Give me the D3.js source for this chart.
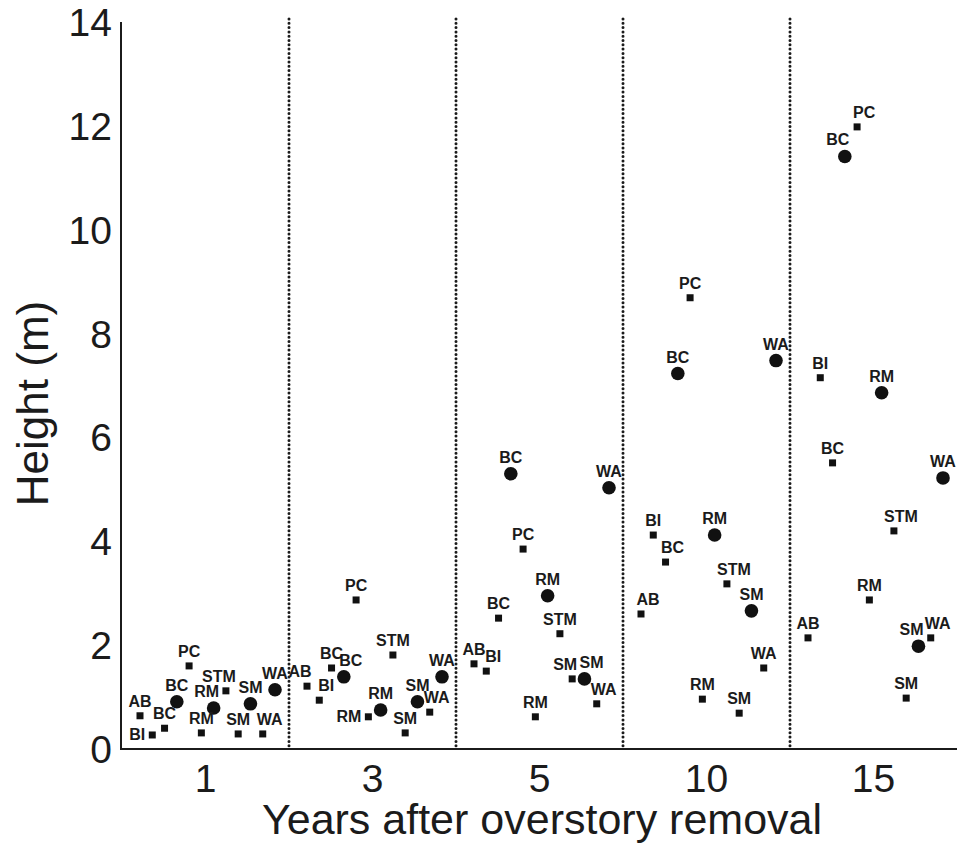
<!DOCTYPE html>
<html>
<head>
<meta charset="utf-8">
<script src="https://cdn.jsdelivr.net/npm/d3@7"></script>
<style>
  body { margin: 0; background: #fff; }
  svg { display: block; font-family: 'Liberation Sans', Arial, Helvetica, sans-serif; }
  .tick-label { font-size: 39px; fill: #1b1b1b; }
  .axis-title { font-size: 43px; fill: #1b1b1b; }
  .y-title { font-size: 44px; }
  .point-label { font-size: 16px; font-weight: bold; fill: #1b1b1b; }
  .axis-line { stroke: #1b1b1b; stroke-width: 2; }
  .divider { stroke: #1b1b1b; stroke-width: 3; stroke-linecap: round; stroke-dasharray: 0 4.3; }
  .marker { fill: #111; }
</style>
</head>
<body>
<svg id="chart" width="961" height="848"></svg>
<script>
// Categories (years after overstory removal) and the species slots inside each year
const years = ['1', '3', '5', '10', '15'];
const slotSpecies = ['AB', 'BI', 'BC', 'BC', 'PC', 'RM', 'RM', 'STM', 'SM', 'SM', 'WA', 'WA'];
const slotShape = ['square', 'square', 'square', 'circle', 'square', 'square', 'circle', 'square', 'square', 'circle', 'square', 'circle'];

// Heights (m), one value per slot
const heightsYear1 = [0.64, 0.27, 0.40, 0.91, 1.60, 0.31, 0.79, 1.12, 0.29, 0.87, 0.29, 1.14];
const heightsYear3 = [1.21, 0.94, 1.56, 1.39, 2.87, 0.62, 0.75, 1.81, 0.31, 0.91, 0.71, 1.39];
const heightsYear5 = [1.64, 1.50, 2.52, 5.30, 3.85, 0.62, 2.95, 2.22, 1.35, 1.35, 0.87, 5.03];
const heightsYear10 = [2.60, 4.12, 3.60, 7.23, 8.69, 0.96, 4.12, 3.18, 0.69, 2.66, 1.56, 7.48];
const heightsYear15 = [2.14, 7.15, 5.51, 11.41, 11.98, 2.87, 6.86, 4.20, 0.98, 1.98, 2.14, 5.22];

// Which side of the marker the species label sits on
const labelSideYear1 = ['n', 'w', 'n', 'n', 'n', 'n', 'nw', 'nw', 'n', 'n', 'ne', 'n'];
const labelSideYear3 = ['nw', 'ne', 'n', 'ne', 'n', 'w', 'n', 'n', 'n', 'n', 'ne', 'n'];
const labelSideYear5 = ['n', 'ne', 'n', 'n', 'n', 'n', 'n', 'n', 'nw', 'ne', 'ne', 'n'];
const labelSideYear10 = ['ne', 'n', 'ne', 'n', 'n', 'n', 'n', 'ne', 'n', 'n', 'n', 'n'];
const labelSideYear15 = ['n', 'n', 'n', 'nw', 'ne', 'n', 'n', 'ne', 'n', 'nw', 'ne', 'n'];

const yTicks = [0, 2, 4, 6, 8, 10, 12, 14];

class HeightChart {
  constructor(svgContainer) {
    this.svg = svgContainer;

    // Flatten the per-year arrays into one row per marker
    const heights = [heightsYear1, heightsYear3, heightsYear5, heightsYear10, heightsYear15];
    const sides = [labelSideYear1, labelSideYear3, labelSideYear5, labelSideYear10, labelSideYear15];
    this.data = [];
    years.forEach((year, i) => {
      slotSpecies.forEach((species, j) => {
        this.data.push({
          year, slot: j, species, shape: slotShape[j], height: heights[i][j], side: sides[i][j],
        });
      });
    });

    this.init();
  }

  init() {
    this.margin = {
      top: 22, right: 4, bottom: 99, left: 122,
    };
    this.width = 961 - this.margin.left - this.margin.right;
    this.height = 848 - this.margin.top - this.margin.bottom;

    // One band per year, then a point scale for species slots inside the band
    this.x = d3.scaleBand().domain(years).range([0, this.width]);
    this.xSlot = d3.scalePoint().domain(d3.range(slotSpecies.length))
      .range([18, this.x.bandwidth() - 14]);
    this.y = d3.scaleLinear().domain([0, 14]).range([this.height, 0]);

    this.chart = this.svg.append('g')
      .attr('transform', `translate(${this.margin.left},${this.margin.top})`);

    this.render();
  }

  render() {
    const vis = this;

    // Dotted dividers between the year groups
    vis.chart.selectAll('.divider')
      .data(years.slice(1))
      .enter()
      .append('line')
      .attr('class', 'divider')
      .attr('x1', (d) => vis.x(d))
      .attr('x2', (d) => vis.x(d))
      .attr('y1', -3)
      .attr('y2', vis.height - 2);

    // Axis lines (no tick marks in the original)
    vis.chart.append('line')
      .attr('class', 'axis-line')
      .attr('x1', -1).attr('x2', -1)
      .attr('y1', 0).attr('y2', vis.height + 1);
    vis.chart.append('line')
      .attr('class', 'axis-line')
      .attr('x1', -2).attr('x2', vis.width)
      .attr('y1', vis.height).attr('y2', vis.height);

    // Y tick labels
    vis.chart.selectAll('.y-label')
      .data(yTicks)
      .enter()
      .append('text')
      .attr('class', 'tick-label')
      .attr('x', -10)
      .attr('y', (d) => vis.y(d))
      .attr('dy', '0.36em')
      .attr('text-anchor', 'end')
      .text((d) => d);

    // X category labels
    vis.chart.selectAll('.x-label')
      .data(years)
      .enter()
      .append('text')
      .attr('class', 'tick-label')
      .attr('x', (d) => vis.x(d) + vis.x.bandwidth() / 2)
      .attr('y', vis.height + 43)
      .attr('text-anchor', 'middle')
      .text((d) => d);

    // Axis titles
    vis.chart.append('text')
      .attr('class', 'axis-title')
      .attr('x', 420)
      .attr('y', vis.height + 85)
      .attr('text-anchor', 'middle')
      .text('Years after overstory removal');
    vis.chart.append('text')
      .attr('class', 'axis-title y-title')
      .attr('transform', `translate(-74,${vis.y(7) + 18}) rotate(-90)`)
      .attr('text-anchor', 'middle')
      .text('Height (m)');

    const px = (d) => vis.x(d.year) + vis.xSlot(d.slot);
    const py = (d) => vis.y(d.height);

    // Square markers
    vis.chart.selectAll('.square')
      .data(vis.data.filter((d) => d.shape === 'square'))
      .enter()
      .append('rect')
      .attr('class', 'marker')
      .attr('x', (d) => px(d) - 3.5)
      .attr('y', (d) => py(d) - 3.5)
      .attr('width', 7)
      .attr('height', 7);

    // Circle markers
    vis.chart.selectAll('.circle')
      .data(vis.data.filter((d) => d.shape === 'circle'))
      .enter()
      .append('circle')
      .attr('class', 'marker')
      .attr('cx', px)
      .attr('cy', py)
      .attr('r', 6.8);

    // Species labels next to markers
    const dxFor = { n: 0, nw: -7, ne: 7, w: -7 };
    vis.chart.selectAll('.point-label')
      .data(vis.data)
      .enter()
      .append('text')
      .attr('class', 'point-label')
      .attr('x', (d) => px(d) + dxFor[d.side])
      .attr('y', (d) => (d.side === 'w' ? py(d) + 5 : py(d) - (d.shape === 'circle' ? 11 : 9)))
      .attr('text-anchor', (d) => (d.side === 'w' ? 'end' : 'middle'))
      .text((d) => d.species);
  }
}

const heightChart = new HeightChart(d3.select('#chart'));
</script>
</body>
</html>
